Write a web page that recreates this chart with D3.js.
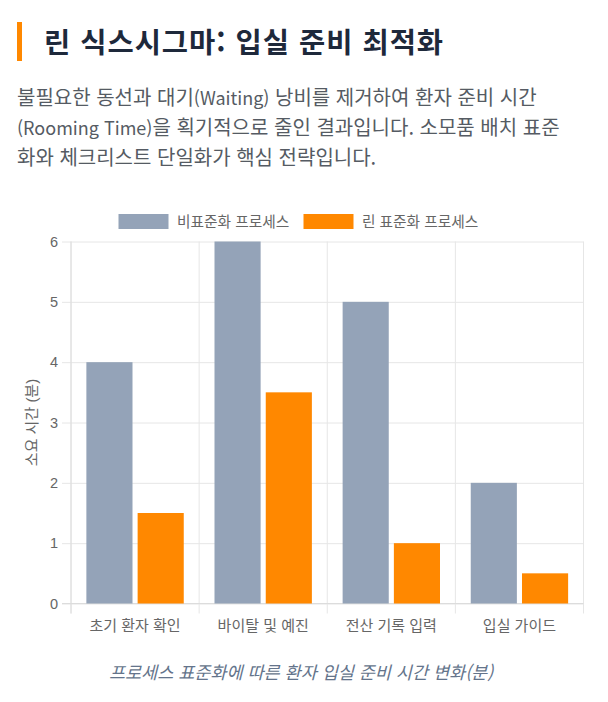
<!DOCTYPE html>
<html lang="ko">
<head>
<meta charset="utf-8">
<script src="https://cdn.jsdelivr.net/npm/d3@7"></script>
<style>
  html, body { margin: 0; padding: 0; background: #fff; }
  body { width: 608px; height: 702px; position: relative; overflow: hidden; font-family: "Noto Sans CJK KR", "Noto Sans", sans-serif; }
  .title { position: absolute; left: 17px; top: 22px; height: 39px; border-left: 5px solid #ff8800; padding-left: 22px;
           font-size: 28.5px; font-weight: 700; color: #1e293b; line-height: 37px; margin: 0; letter-spacing: 1px; white-space: nowrap; }
  .desc { position: absolute; left: 17px; top: 82px; width: 590px; font-size: 20px; line-height: 30px; color: #555b63; margin: 0; white-space: nowrap; }
  .desc .lat { font-size: 18px; }
  svg { position: absolute; left: 0; top: 0; }
</style>
</head>
<body>
<h1 class="title">린 식스시그마: 입실 준비 최적화</h1>
<p class="desc">불필요한 동선과 대기<span class="lat">(Waiting)</span> 낭비를 제거하여 환자 준비 시간<br><span class="lat">(Rooming Time)</span>을 획기적으로 줄인 결과입니다. 소모품 배치 표준<br>화와 체크리스트 단일화가 핵심 전략입니다.</p>
<svg id="chart" width="608" height="702"></svg>
<script>
const categories = ["초기 환자 확인", "바이탈 및 예진", "전산 기록 입력", "입실 가이드"];
const seriesNames = ["비표준화 프로세스", "린 표준화 프로세스"];
const beforeValues = [4, 6, 5, 2];
const afterValues = [1.5, 3.5, 1, 0.5];
const yTicks = [0, 1, 2, 3, 4, 5, 6];
const colors = ["#94a3b8", "#ff8800"];
const yTitle = "소요 시간 (분)";
const caption = "프로세스 표준화에 따른 환자 입실 준비 시간 변화(분)";

(function () {
const seriesValues = [beforeValues, afterValues];
const rows = categories.map((c, i) => ({ cat: c, vals: seriesNames.map((s, j) => ({ s, v: seriesValues[j][i], j })) }));

const svg = d3.select("#chart");
const chartFont = "'Liberation Sans', 'Noto Sans CJK KR', sans-serif";
const pLeft = 71, pRight = 583.5, pTop = 241.5, pBottom = 603.5;

const x = d3.scaleBand().domain(categories).range([pLeft, pRight]).paddingInner(0).paddingOuter(0);
const bw = x.bandwidth();
const xs = d3.scaleBand().domain(seriesNames).range([bw * 0.1, bw * 0.9]).paddingInner(0.1).paddingOuter(0.05);
const y = d3.scaleLinear().domain([0, 6]).range([pBottom, pTop]);

const grid = "#e6e6e6";
const yAxis = d3.axisLeft(y).tickValues(yTicks).tickSize(-(pRight - pLeft)).tickPadding(0).tickFormat(() => "");
const gy = svg.append("g").attr("transform", `translate(${pLeft},0)`).call(yAxis);
gy.select(".domain").remove();
gy.selectAll(".tick line").attr("stroke", grid).attr("stroke-width", 1).attr("x1", -9);

const vlines = categories.map(c => x(c)).concat([pRight]);
svg.append("g").selectAll("line").data(vlines).join("line")
  .attr("x1", d => d).attr("x2", d => d).attr("y1", pTop).attr("y2", pBottom + 10)
  .attr("stroke", grid).attr("stroke-width", 1);
svg.append("line").attr("x1", pLeft).attr("x2", pLeft).attr("y1", pTop).attr("y2", pBottom + 10).attr("stroke", "#dcdcdc");
svg.append("line").attr("x1", pLeft - 9).attr("x2", pRight).attr("y1", pBottom).attr("y2", pBottom).attr("stroke", "#dcdcdc");

svg.append("g").selectAll("text").data(yTicks).join("text")
  .attr("x", pLeft - 13).attr("y", d => y(d)).attr("dy", "0.35em")
  .attr("text-anchor", "end").attr("font-family", chartFont).attr("font-size", 14.5).attr("fill", "#666")
  .text(d => d);

const g = svg.append("g").selectAll("g").data(rows).join("g").attr("transform", d => `translate(${x(d.cat)},0)`);
g.selectAll("rect").data(d => d.vals).join("rect")
  .attr("x", d => xs(d.s)).attr("width", xs.bandwidth())
  .attr("y", d => y(d.v)).attr("height", d => y(0) - y(d.v))
  .attr("fill", d => colors[d.j]);

svg.append("g").selectAll("text").data(categories).join("text")
  .attr("x", d => x(d) + bw / 2).attr("y", 626).attr("dy", "0.35em")
  .attr("text-anchor", "middle").attr("font-family", chartFont).attr("font-size", 15).attr("fill", "#666")
  .text(d => d);

svg.append("text").attr("transform", `translate(32,${(pTop + pBottom) / 2}) rotate(-90)`)
  .attr("text-anchor", "middle").attr("dy", "0.35em").attr("font-family", chartFont).attr("font-size", 15).attr("fill", "#666")
  .text(yTitle);

const legendX = [118.5, 303.5];
const lg = svg.append("g").selectAll("g").data(seriesNames).join("g")
  .attr("transform", (d, i) => `translate(${legendX[i]},214)`);
lg.append("rect").attr("width", 50).attr("height", 15).attr("fill", (d, i) => colors[i]);
lg.append("text").attr("x", 58.5).attr("y", 7.5).attr("dy", "0.35em")
  .attr("font-family", chartFont).attr("font-size", 14.7).attr("fill", "#666").text(d => d);

svg.append("text").attr("x", 301).attr("y", 673).attr("dy", "0.35em").attr("text-anchor", "middle")
  .attr("font-family", "'Noto Sans CJK KR', sans-serif").attr("font-style", "italic").attr("font-size", 17.5).attr("fill", "#64748b")
  .text(caption);
})();
</script>
</body>
</html>
